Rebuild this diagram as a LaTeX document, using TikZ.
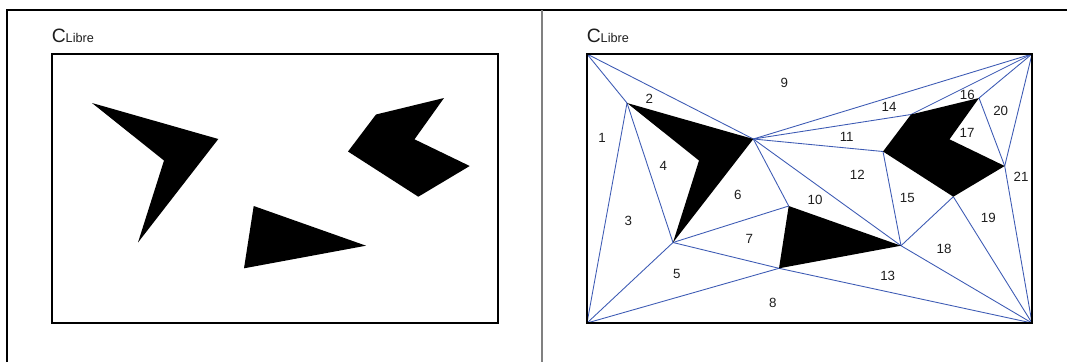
\documentclass[tikz,border=0pt]{standalone}
\usepackage{fontspec}
\setmainfont{Liberation Sans}
\definecolor{triblue}{RGB}{60,90,180}
\definecolor{labgray}{RGB}{30,30,30}
\definecolor{divgray}{RGB}{128,128,128}
\newcommand\drawobstacles{%
  \fill[obst] (627,103) -- (753.3,139) -- (673,242.5) -- (699,160.5) -- cycle;
  \fill[obst] (788.7,206) -- (901,245.7) -- (779,268.3) -- cycle;
  \fill[obst] (911,114.5) -- (979,98) -- (949.5,139.3) -- (1004.7,166) -- (953.3,196.7) -- (883,151.5) -- cycle;
}
\begin{document}
\begin{tikzpicture}[x=0.75pt,y=-0.75pt,
  edge/.style={draw=triblue, line width=0.65pt},
  rectframe/.style={draw=black, line width=0.8pt},
  obst/.style={fill=black},
  lab/.style={font=\fontsize{10}{11}\selectfont, text=labgray, inner sep=0pt},
  ttl/.style={anchor=base west, inner sep=0pt, text=labgray}]
\useasboundingbox (0,0) rectangle (1067,362);
\fill[white] (0,0) rectangle (1067,362);
% table frame
\draw[line width=0.8pt] (7,362) -- (7,10) -- (1067,10);
\draw[divgray, line width=1.1pt] (542,10) -- (542,362);

% ---------- left panel ----------
\node[ttl] (t1) at (51.5,42.3) {\fontsize{14.5}{15}\selectfont C\fontsize{9.5}{10}\selectfont Libre};
\begin{scope}[shift={(-535,0)}]
  \drawobstacles
\end{scope}
\draw[rectframe] (52,54) rectangle (498,323);

% ---------- right panel ----------
\node[ttl] (t2) at (586.5,42.3) {\fontsize{14.5}{15}\selectfont C\fontsize{9.5}{10}\selectfont Libre};
\coordinate (TL) at (587,54);
\coordinate (TR) at (1032,54);
\coordinate (BL) at (587,323);
\coordinate (BR) at (1032,323);
\coordinate (A) at (627,103);
\coordinate (B) at (753.3,139);
\coordinate (C) at (699,160.5);
\coordinate (D) at (673,242.5);
\coordinate (E) at (788.7,206);
\coordinate (F) at (901,245.7);
\coordinate (G) at (779,268.3);
\coordinate (H) at (911,114.5);
\coordinate (I) at (979,98);
\coordinate (J) at (949.5,139.3);
\coordinate (K) at (1004.7,166);
\coordinate (L) at (953.3,196.7);
\coordinate (M) at (883,151.5);

\foreach \u/\v in {TL/A, TL/B, A/BL, A/D, D/BL, BL/G, D/G, D/E, B/E, B/F, B/M, B/H, B/TR,
                   H/TR, I/TR, I/K, K/TR, K/BR, L/BR, L/F, M/F, F/BR, G/BR}
  \draw[edge] (\u) -- (\v);
\drawobstacles
\draw[rectframe] (TL) rectangle (BR);

\node[lab] (l1) at (602,138) {1};
\node[lab] (l2) at (649.3,99) {2};
\node[lab] (l3) at (628.3,221) {3};
\node[lab] (l4) at (663.3,165.7) {4};
\node[lab] (l5) at (676.7,274.3) {5};
\node[lab] (l6) at (737.7,194.5) {6};
\node[lab] (l7) at (749.3,239.3) {7};
\node[lab] (l8) at (772.7,302.7) {8};
\node[lab] (l9) at (784.3,83.3) {9};
\node[lab] (l10) at (815,200) {10};
\node[lab] (l11) at (846.7,136.7) {11};
\node[lab] (l12) at (857.3,175) {12};
\node[lab] (l13) at (887.7,275.7) {13};
\node[lab] (l14) at (889,106.7) {14};
\node[lab] (l15) at (907.3,197.5) {15};
\node[lab] (l16) at (967.3,95) {16};
\node[lab] (l17) at (967,133.3) {17};
\node[lab] (l18) at (944,249) {18};
\node[lab] (l19) at (988.3,218.3) {19};
\node[lab] (l20) at (1000.7,111) {20};
\node[lab] (l21) at (1021,176.7) {21};
\end{tikzpicture}
\end{document}
